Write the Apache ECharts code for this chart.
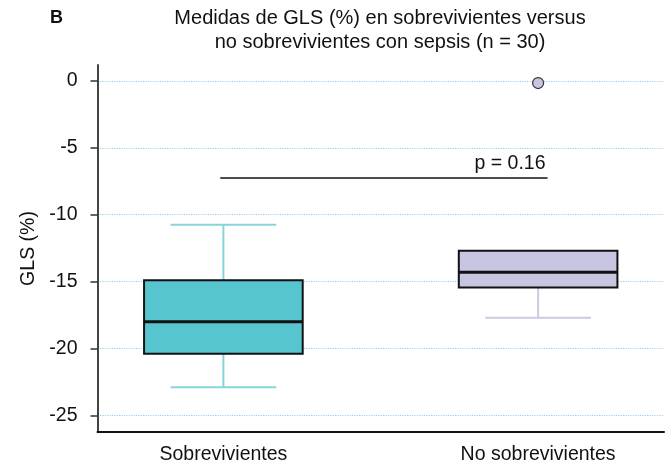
<!DOCTYPE html>
<html><head><meta charset="utf-8">
<script src="https://cdn.jsdelivr.net/npm/echarts@6/dist/echarts.min.js"></script>
<style>html,body{margin:0;padding:0;background:#fff}#c{width:666px;height:466px}</style>
</head><body><div id="c"></div>
<script>
// ---- data ----
const categories = ['Sobrevivientes', 'No sobrevivientes'];
const categoryPositions = [1, 2];
// [min, Q1, median, Q3, max]
const survivorsBox = [-22.9, -20.4, -18.0, -14.9, -10.75];
const nonSurvivorsBox = [-17.7, -15.45, -14.3, -12.7, -12.7];
const outlierPoints = [[2, -0.15]];
const yTickValues = [0, -5, -10, -15, -20, -25];
const pValueText = 'p = 0.16';
const pLineX = [0.99, 2.03];
const pLineY = -7.25;
const titleText = 'Medidas de GLS (%) en sobrevivientes versus\nno sobrevivientes con sepsis (n = 30)';
const panelLetter = 'B';
const yAxisName = 'GLS (%)';

// ---- styles ----
const FONT = '"Liberation Sans", Arial, Helvetica, sans-serif';
const boxFills = ['#56c5d0', '#c8c5e2'];
const whiskerColors = ['#86d5db', '#cdc9e5'];

const boxData = [
  [categoryPositions[0]].concat(survivorsBox),
  [categoryPositions[1]].concat(nonSurvivorsBox)
];

function renderBox(params, api) {
  const x = api.value(0);
  const v = [1, 2, 3, 4, 5].map(function (i) { return api.value(i); });
  const cx = api.coord([x, v[2]])[0];
  const y = v.map(function (val) { return api.coord([x, val])[1]; });
  const halfW = api.size([0.252, 0])[0];
  const capHalf = api.size([0.168, 0])[0];
  const wc = whiskerColors[params.dataIndex];
  const children = [];
  const wStyle = { stroke: wc, lineWidth: 2 };
  if (Math.abs(y[0] - y[1]) > 0.5) {
    children.push({ type: 'line', shape: { x1: cx, y1: y[1], x2: cx, y2: y[0] }, style: wStyle });
    children.push({ type: 'line', shape: { x1: cx - capHalf, y1: y[0], x2: cx + capHalf, y2: y[0] }, style: wStyle });
  }
  if (Math.abs(y[4] - y[3]) > 0.5) {
    children.push({ type: 'line', shape: { x1: cx, y1: y[3], x2: cx, y2: y[4] }, style: wStyle });
    children.push({ type: 'line', shape: { x1: cx - capHalf, y1: y[4], x2: cx + capHalf, y2: y[4] }, style: wStyle });
  }
  children.push({ type: 'rect', shape: { x: cx - halfW, y: y[3], width: 2 * halfW, height: y[1] - y[3] },
    style: { fill: boxFills[params.dataIndex], stroke: '#111', lineWidth: 2 } });
  children.push({ type: 'line', shape: { x1: cx - halfW, y1: y[2], x2: cx + halfW, y2: y[2] },
    style: { stroke: '#111', lineWidth: 3 } });
  return { type: 'group', children: children };
}

const chart = echarts.init(document.getElementById('c'), null, { renderer: 'canvas' });
chart.setOption({
  animation: false,
  backgroundColor: '#fff',
  textStyle: { fontFamily: FONT },
  grid: { left: 97.5, right: 2, top: 65, bottom: 34, containLabel: false },
  graphic: [
    { type: 'text', x: 50, y: 9, style: { text: panelLetter, font: 'bold 18px ' + FONT, fill: '#111' } },
    { type: 'text', x: 380, y: 6, style: { text: titleText, font: '20px ' + FONT, fill: '#111', align: 'center', lineHeight: 24 } }
  ],
  xAxis: {
    type: 'value', min: 0.6, max: 2.4,
    axisLine: { show: true, onZero: false, lineStyle: { color: '#111', width: 2 } },
    axisTick: { show: false },
    splitLine: { show: false },
    axisLabel: {
      customValues: categoryPositions,
      formatter: function (val) { const i = categoryPositions.indexOf(val); return i >= 0 ? categories[i] : ''; },
      fontSize: 19.5, color: '#111', margin: 13, fontFamily: FONT
    }
  },
  yAxis: {
    type: 'value', min: -26.25, max: 1.2,
    name: yAxisName, nameLocation: 'middle', nameGap: 58, nameRotate: 90,
    nameTextStyle: { fontSize: 19.5, color: '#111', fontFamily: FONT },
    axisLine: { show: true, lineStyle: { color: '#444', width: 2 } },
    axisTick: { show: true, length: 7, customValues: yTickValues, lineStyle: { color: '#333', width: 1.5 } },
    axisLabel: { customValues: yTickValues, fontSize: 19.5, color: '#111', margin: 20, fontFamily: FONT },
    splitLine: { show: true, lineStyle: { color: '#8fd3f0', type: 'dotted', width: 1.2 } }
  },
  series: [
    { type: 'custom', renderItem: renderBox, data: boxData, encode: { x: 0, y: [1, 2, 3, 4, 5] }, z: 3 },
    { type: 'scatter', data: outlierPoints, symbol: 'circle', symbolSize: 11,
      itemStyle: { color: boxFills[1], borderColor: '#333', borderWidth: 1.2, opacity: 1 }, z: 4 },
    { type: 'line', symbol: 'none', z: 4,
      lineStyle: { color: '#111', width: 1.5 },
      data: [[pLineX[0], pLineY], [pLineX[1], pLineY]]
    },
    { type: 'scatter', z: 5, symbol: 'circle', symbolSize: 1, itemStyle: { color: 'rgba(0,0,0,0)', opacity: 1 },
      data: [[pLineX[1], pLineY]],
      label: { show: true, formatter: pValueText, position: 'top', align: 'right', distance: 4,
        fontSize: 19.5, color: '#111', opacity: 1, fontFamily: FONT, offset: [-2, 0] }
    }
  ]
});
</script></body></html>
